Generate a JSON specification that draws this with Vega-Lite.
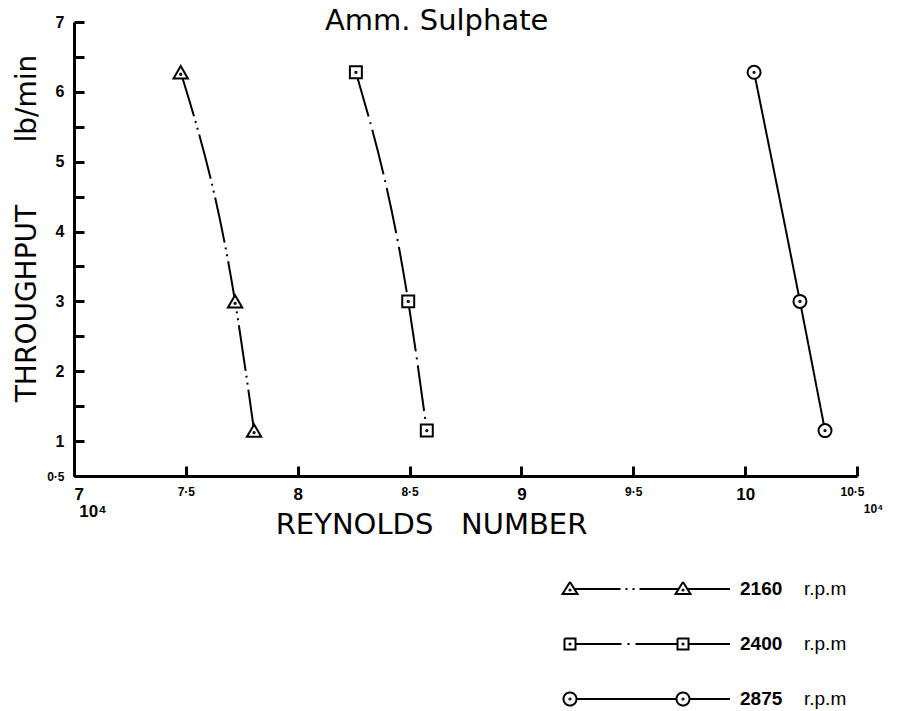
{
  "$schema": "https://vega.github.io/schema/vega-lite/v6.json",
  "width": 783,
  "height": 454,
  "autosize": {"type": "none"},
  "padding": {"left": 74, "top": 22, "right": 42, "bottom": 235},
  "background": "white",
  "config": {"view": {"stroke": null}, "font": "DejaVu Sans"},
  "title": {
    "text": "Amm. Sulphate",
    "anchor": "start",
    "frame": "group",
    "dx": 251,
    "offset": -45,
    "baseline": "alphabetic",
    "font": "DejaVu Sans",
    "fontSize": 29,
    "fontWeight": "normal",
    "color": "black"
  },
  "data": {
    "values": [
      {"rpm": "2160", "series": "2160 r.p.m", "re": 7.477, "tp": 6.28},
      {"rpm": "2160", "series": "2160 r.p.m", "re": 7.72, "tp": 3.0},
      {"rpm": "2160", "series": "2160 r.p.m", "re": 7.805, "tp": 1.15},
      {"rpm": "2400", "series": "2400 r.p.m", "re": 8.26, "tp": 6.28},
      {"rpm": "2400", "series": "2400 r.p.m", "re": 8.494, "tp": 3.0},
      {"rpm": "2400", "series": "2400 r.p.m", "re": 8.577, "tp": 1.15},
      {"rpm": "2875", "series": "2875 r.p.m", "re": 10.04, "tp": 6.28},
      {"rpm": "2875", "series": "2875 r.p.m", "re": 10.245, "tp": 3.0},
      {"rpm": "2875", "series": "2875 r.p.m", "re": 10.357, "tp": 1.15}
    ]
  },
  "encoding": {
    "x": {
      "field": "re",
      "type": "quantitative",
      "scale": {"domain": [7, 10.5], "nice": false, "zero": false},
      "axis": {
        "title": "REYNOLDS \u00a0\u00a0NUMBER",
        "titleFont": "DejaVu Sans",
        "titleFontSize": 29,
        "titleFontWeight": "normal",
        "titleColor": "black",
        "titleX": 357,
        "titleY": 57,
        "titleAlign": "center",
        "titleBaseline": "alphabetic",
        "values": [7, 7.5, 8, 8.5, 9, 9.5, 10, 10.5],
        "labelExpr": "datum.value == 7 ? ['7', '\u200b\u00a010⁴'] : datum.value == 10.5 ? ['10·5', '\u200b\u00a0\u00a0\u00a0\u00a0\u00a0\u00a0\u00a010⁴'] : datum.value % 1 == 0 ? format(datum.value, 'd') : replace(format(datum.value, '.1f'), '.', '·')",
        "labelFont": "Liberation Sans",
        "labelFontSize": {"condition": {"test": "datum.value % 1 != 0", "value": 12}, "value": 17},
        "labelFontWeight": "bold",
        "labelColor": "black",
        "labelBaseline": "top",
        "labelAlign": {"condition": {"test": "datum.value == 7 || datum.value == 10.5", "value": "left"}, "value": "center"},
        "labelOffset": {"condition": {"test": "datum.value == 10.5", "value": -17}, "value": 0},
        "labelPadding": 20,
        "labelFlush": false,
        "labelOverlap": false,
        "labelLineHeight": 17,
        "domainColor": "black",
        "domainWidth": 3,
        "tickColor": "black",
        "tickWidth": 3,
        "tickSize": -10,
        "grid": false
      }
    },
    "y": {
      "field": "tp",
      "type": "quantitative",
      "scale": {"domain": [0.5, 7], "nice": false, "zero": false},
      "axis": {
        "title": "THROUGHPUT\u00a0\u00a0\u00a0\u00a0\u00a0\u00a0\u00a0lb/min",
        "titleFont": "DejaVu Sans",
        "titleFontSize": 28,
        "titleFontWeight": "normal",
        "titleColor": "black",
        "titleAngle": 270,
        "titleX": -39,
        "titleY": 206,
        "titleAlign": "center",
        "titleBaseline": "alphabetic",
        "values": [0.5, 1, 1.5, 2, 2.5, 3, 3.5, 4, 4.5, 5, 5.5, 6, 6.5, 7],
        "labelExpr": "datum.value == 0.5 ? '0·5' : datum.value % 1 == 0 ? format(datum.value, 'd') : ''",
        "labelFont": "Liberation Sans",
        "labelFontSize": {"condition": {"test": "datum.value == 0.5", "value": 12}, "value": 16},
        "labelFontWeight": "bold",
        "labelColor": "black",
        "labelPadding": 20,
        "labelFlush": false,
        "labelOverlap": false,
        "domainColor": "black",
        "domainWidth": 3,
        "tickColor": "black",
        "tickWidth": 3,
        "tickSize": -10,
        "grid": false
      }
    }
  },
  "layer": [
    {
      "mark": {"type": "line", "interpolate": "monotone", "color": "black", "strokeWidth": 2},
      "encoding": {
        "strokeDash": {
          "field": "series",
          "type": "nominal",
          "scale": {"domain": ["2160 r.p.m", "2400 r.p.m", "2875 r.p.m"], "range": [[46, 5, 2, 5, 2, 5], [46, 6, 2, 6], [1, 0]]},
          "legend": {
            "orient": "none",
            "legendX": 485,
            "legendY": 556,
            "title": null,
            "padding": 0,
            "rowPadding": 34,
            "symbolSize": 400,
            "symbolType": {"expr": "datum.value == '2160 r.p.m' ? 'M0,-0.7L0.75,0.5L-0.75,0.5Z M-0.06,0.1A0.06,0.06 0 1,0 0.06,0.1A0.06,0.06 0 1,0 -0.06,0.1Z M0.45,0L10.85,0 M11.3,-0.7L12.05,0.5L10.55,0.5Z M11.24,0.1A0.06,0.06 0 1,0 11.36,0.1A0.06,0.06 0 1,0 11.24,0.1Z M11.75,0L16,0' : datum.value == '2400 r.p.m' ? 'M-0.55,-0.55L0.55,-0.55L0.55,0.55L-0.55,0.55Z M-0.06,0A0.06,0.06 0 1,0 0.06,0A0.06,0.06 0 1,0 -0.06,0Z M0.55,0L10.75,0 M10.75,-0.55L11.85,-0.55L11.85,0.55L10.75,0.55Z M11.24,0A0.06,0.06 0 1,0 11.36,0A0.06,0.06 0 1,0 11.24,0Z M11.85,0L16,0' : 'M-0.65,0A0.65,0.65 0 1,0 0.65,0A0.65,0.65 0 1,0 -0.65,0Z M-0.06,0A0.06,0.06 0 1,0 0.06,0A0.06,0.06 0 1,0 -0.06,0Z M0.65,0L10.65,0 M10.65,0A0.65,0.65 0 1,0 11.95,0A0.65,0.65 0 1,0 10.65,0Z M11.24,0A0.06,0.06 0 1,0 11.36,0A0.06,0.06 0 1,0 11.24,0Z M11.95,0L16,0'"},
            "symbolStrokeColor": "black",
            "symbolStrokeWidth": 2,
            "symbolFillColor": "white",
            "labelExpr": "'r.p.m'",
            "labelFont": "Liberation Sans",
            "labelFontSize": 19,
            "labelFontWeight": "normal",
            "labelColor": "black",
            "labelOffset": 223
          }
        }
      }
    },
    {
      "mark": {"type": "point", "filled": true, "fill": "white", "stroke": "black", "strokeWidth": 2, "size": 169, "opacity": 1},
      "encoding": {
        "shape": {
          "field": "rpm",
          "type": "nominal",
          "scale": {
            "domain": ["2160", "2400", "2875"],
            "range": [
              "M0,-0.95L1.1,0.95L-1.1,0.95Z M-0.1,0.3A0.1,0.1 0 1,0 0.1,0.3A0.1,0.1 0 1,0 -0.1,0.3Z",
              "M-0.92,-0.92L0.92,-0.92L0.92,0.92L-0.92,0.92Z M-0.1,0A0.1,0.1 0 1,0 0.1,0A0.1,0.1 0 1,0 -0.1,0Z",
              "M-1,0A1,1 0 1,0 1,0A1,1 0 1,0 -1,0Z M-0.1,0A0.1,0.1 0 1,0 0.1,0A0.1,0.1 0 1,0 -0.1,0Z"
            ]
          },
          "legend": {
            "orient": "none",
            "legendX": 485,
            "legendY": 556,
            "title": null,
            "padding": 0,
            "rowPadding": 34,
            "symbolSize": 400,
            "symbolFillColor": "white",
            "symbolStrokeColor": "black",
            "symbolStrokeWidth": 2,
            "symbolOpacity": 0,
            "labelFont": "Liberation Sans",
            "labelFontSize": 19,
            "labelFontWeight": "bold",
            "labelColor": "black",
            "labelOffset": 159
          }
        }
      }
    }
  ]
}
